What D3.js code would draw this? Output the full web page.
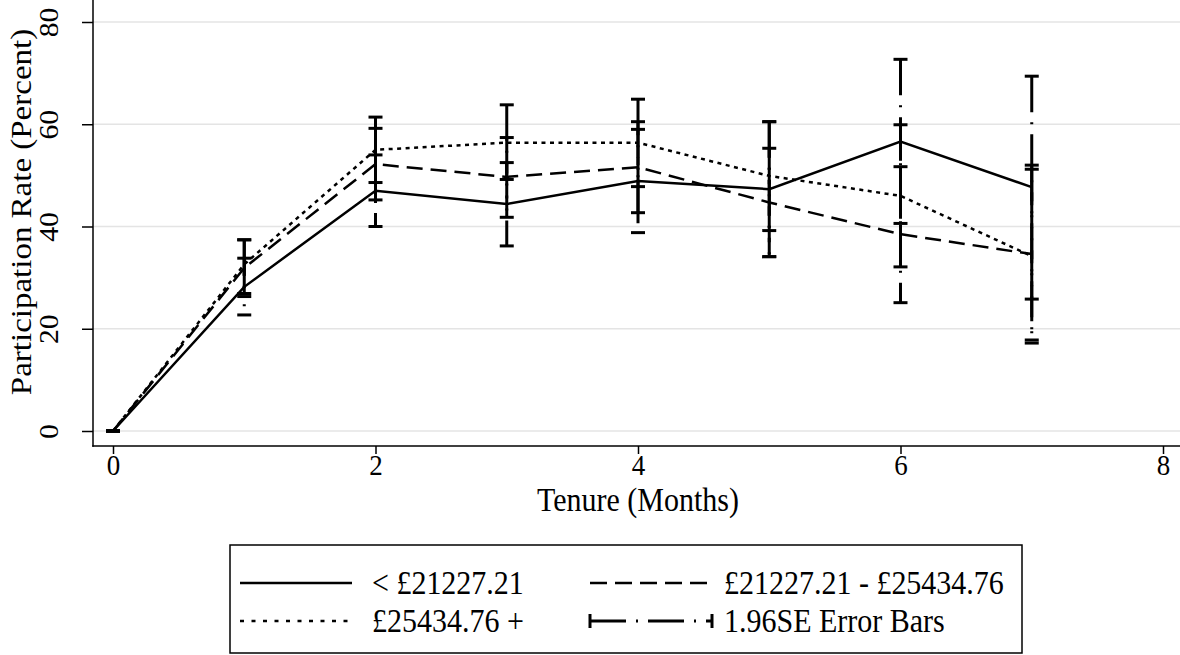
<!DOCTYPE html>
<html>
<head>
<meta charset="utf-8">
<script src="https://cdn.jsdelivr.net/npm/d3@7"></script>
<style>
  body { margin: 0; background: #fff; }
  svg { display: block; }
  text { font-family: "Liberation Serif", "DejaVu Serif", serif; fill: #000; }
</style>
</head>
<body>
<svg id="chart" width="1180" height="655"></svg>
<script>
// Tenure in months
const tenure = [0, 1, 2, 3, 4, 5, 6, 7];

// Salary bands
const bandNames = ["< £21227.21", "£21227.21 - £25434.76", "£25434.76 +"];

// Participation rate (%) and 1.96SE bounds, lowest band
const lowMean = [0, 28.2, 47.0, 44.4, 48.9, 47.3, 56.6, 47.7];
const lowLo   = [0, 22.7, 40.0, 36.2, 38.8, 34.1, 40.6, 25.8];
const lowHi   = [0, 33.8, 54.0, 52.5, 59.0, 60.5, 72.7, 69.4];

// middle band
const midMean = [0, 31.9, 52.2, 49.7, 51.6, 44.7, 38.5, 34.6];
const midLo   = [0, 26.3, 45.2, 41.8, 42.7, 34.1, 25.1, 17.8];
const midHi   = [0, 37.4, 59.2, 57.4, 60.5, 55.3, 51.7, 52.0];

// highest band
const highMean = [0, 32.6, 55.0, 56.4, 56.4, 49.9, 46.0, 34.2];
const highLo   = [0, 26.9, 48.6, 49.2, 47.8, 39.2, 32.1, 17.2];
const highHi   = [0, 37.4, 61.4, 63.8, 64.9, 60.5, 59.9, 51.2];

const xTicks = [0, 2, 4, 6, 8];
const yTicks = [0, 20, 40, 60, 80];

const xTitle = "Tenure (Months)";
const yTitle = "Participation Rate (Percent)";
const ciLabel = "1.96SE Error Bars";

// ---- styling ----
const SERIF = "'Liberation Serif', 'DejaVu Serif', serif";
const dashes = [null, "16,8", "4,4.5"];
const keyDashes = [null, "17,8", "4,7.5"];
const ciDash = "36,10,2,10";
const lineW = 2.5, ciW = 3, capHalf = 7;
const stretch = 1.1;          // glyphs are drawn slightly taller than wide
const tickFont = 27;

const series = [
  { name: bandNames[0], mean: lowMean, lo: lowLo, hi: lowHi, dash: dashes[0], key: keyDashes[0] },
  { name: bandNames[1], mean: midMean, lo: midLo, hi: midHi, dash: dashes[1], key: keyDashes[1] },
  { name: bandNames[2], mean: highMean, lo: highLo, hi: highHi, dash: dashes[2], key: keyDashes[2] }
];

const svg = d3.select("#chart");
const W = 1180;
const axisX = 93, axisY = 446;

const x = d3.scaleLinear().domain([0, 8]).range([113, 1163]);
const y = d3.scaleLinear().domain([0, 80]).range([431, 22]);

// gridlines
svg.append("g").selectAll("line").data(yTicks).join("line")
  .attr("x1", axisX).attr("x2", W)
  .attr("y1", d => y(d)).attr("y2", d => y(d))
  .attr("stroke", "#e4e4e4").attr("stroke-width", 1.5);

// y axis
const yAxis = d3.axisLeft(y).tickValues(yTicks).tickSize(11).tickPadding(0).tickFormat(d3.format("d"));
const gy = svg.append("g").attr("transform", `translate(${axisX},0)`).call(yAxis)
  .attr("font-family", null).attr("font-size", null);
gy.select(".domain").remove();
gy.selectAll(".tick line").attr("stroke", "#000").attr("stroke-width", 1.5);
gy.selectAll(".tick text")
  .attr("x", 0).attr("y", 0).attr("dy", null)
  .attr("transform", `translate(-35,0) scale(1,${stretch}) rotate(-90)`)
  .attr("text-anchor", "middle")
  .attr("font-family", SERIF).attr("font-size", tickFont)
  .style("font-family", SERIF);

// x axis
const xAxis = d3.axisBottom(x).tickValues(xTicks).tickSize(8).tickPadding(0).tickFormat(d3.format("d"));
const gx = svg.append("g").attr("transform", `translate(0,${axisY})`).call(xAxis)
  .attr("font-family", null).attr("font-size", null);
gx.select(".domain").remove();
gx.selectAll(".tick line").attr("stroke", "#000").attr("stroke-width", 1.5);
gx.selectAll(".tick text")
  .attr("y", 0).attr("dy", null)
  .attr("transform", `translate(0,29) scale(1,${stretch})`)
  .attr("text-anchor", "middle")
  .attr("font-family", SERIF).attr("font-size", tickFont)
  .style("font-family", SERIF);

// axis lines
svg.append("line").attr("x1", axisX).attr("x2", axisX).attr("y1", 0).attr("y2", axisY + 0.75)
  .attr("stroke", "#000").attr("stroke-width", 1.5);
svg.append("line").attr("x1", axisX - 0.75).attr("x2", W).attr("y1", axisY).attr("y2", axisY)
  .attr("stroke", "#000").attr("stroke-width", 1.5);

// axis titles
svg.append("text")
  .attr("transform", `translate(${x(4)},511) scale(1,${stretch})`)
  .attr("text-anchor", "middle").attr("font-size", 30).text(xTitle);
svg.append("text")
  .attr("transform", `translate(31,212) scale(1,${stretch}) rotate(-90)`)
  .attr("text-anchor", "middle").attr("font-size", 30).text(yTitle);

// series lines
const line = d3.line().x((d, i) => x(tenure[i])).y(d => y(d));
const gLines = svg.append("g");
series.forEach(s => {
  gLines.append("path").datum(s.mean)
    .attr("d", line)
    .attr("fill", "none").attr("stroke", "#000")
    .attr("stroke-width", lineW)
    .attr("stroke-dasharray", s.dash);
});

// error bars (drawn from upper to lower bound) with caps
const gCI = svg.append("g");
series.forEach(s => {
  tenure.forEach((t, i) => {
    const cx = x(t);
    gCI.append("line")
      .attr("x1", cx).attr("x2", cx)
      .attr("y1", y(s.hi[i])).attr("y2", y(s.lo[i]))
      .attr("stroke", "#000").attr("stroke-width", ciW)
      .attr("stroke-dasharray", ciDash);
    [s.lo[i], s.hi[i]].forEach(v => {
      gCI.append("line")
        .attr("x1", cx - capHalf).attr("x2", cx + capHalf)
        .attr("y1", y(v)).attr("y2", y(v))
        .attr("stroke", "#000").attr("stroke-width", ciW);
    });
  });
});

// legend
const lg = svg.append("g");
lg.append("rect").attr("x", 230).attr("y", 545).attr("width", 792).attr("height", 108)
  .attr("fill", "#fff").attr("stroke", "#000").attr("stroke-width", 1.5);

const rows = [583, 621];
const cols = [{ k0: 240, k1: 352, tx: 372 }, { k0: 590, k1: 712, tx: 724 }];
const items = [
  { s: series[0], r: 0, c: 0 },
  { s: series[1], r: 0, c: 1 },
  { s: series[2], r: 1, c: 0 },
];
function keyText(tx, ry, str) {
  lg.append("text")
    .attr("transform", `translate(${tx},${ry + 11}) scale(1,${stretch})`)
    .attr("font-size", 30).text(str);
}
items.forEach(it => {
  const c = cols[it.c], ry = rows[it.r];
  lg.append("line").attr("x1", c.k0).attr("x2", c.k1).attr("y1", ry).attr("y2", ry)
    .attr("stroke", "#000").attr("stroke-width", lineW).attr("stroke-dasharray", it.s.key);
  keyText(c.tx, ry, it.s.name);
});
// error-bar key
{
  const c = cols[1], ry = rows[1];
  lg.append("line").attr("x1", c.k0).attr("x2", c.k1).attr("y1", ry).attr("y2", ry)
    .attr("stroke", "#000").attr("stroke-width", ciW).attr("stroke-dasharray", ciDash);
  [c.k0, c.k1].forEach(kx => {
    lg.append("line").attr("x1", kx).attr("x2", kx).attr("y1", ry - capHalf).attr("y2", ry + capHalf)
      .attr("stroke", "#000").attr("stroke-width", ciW);
  });
  keyText(c.tx, ry, ciLabel);
}
</script>
</body>
</html>
